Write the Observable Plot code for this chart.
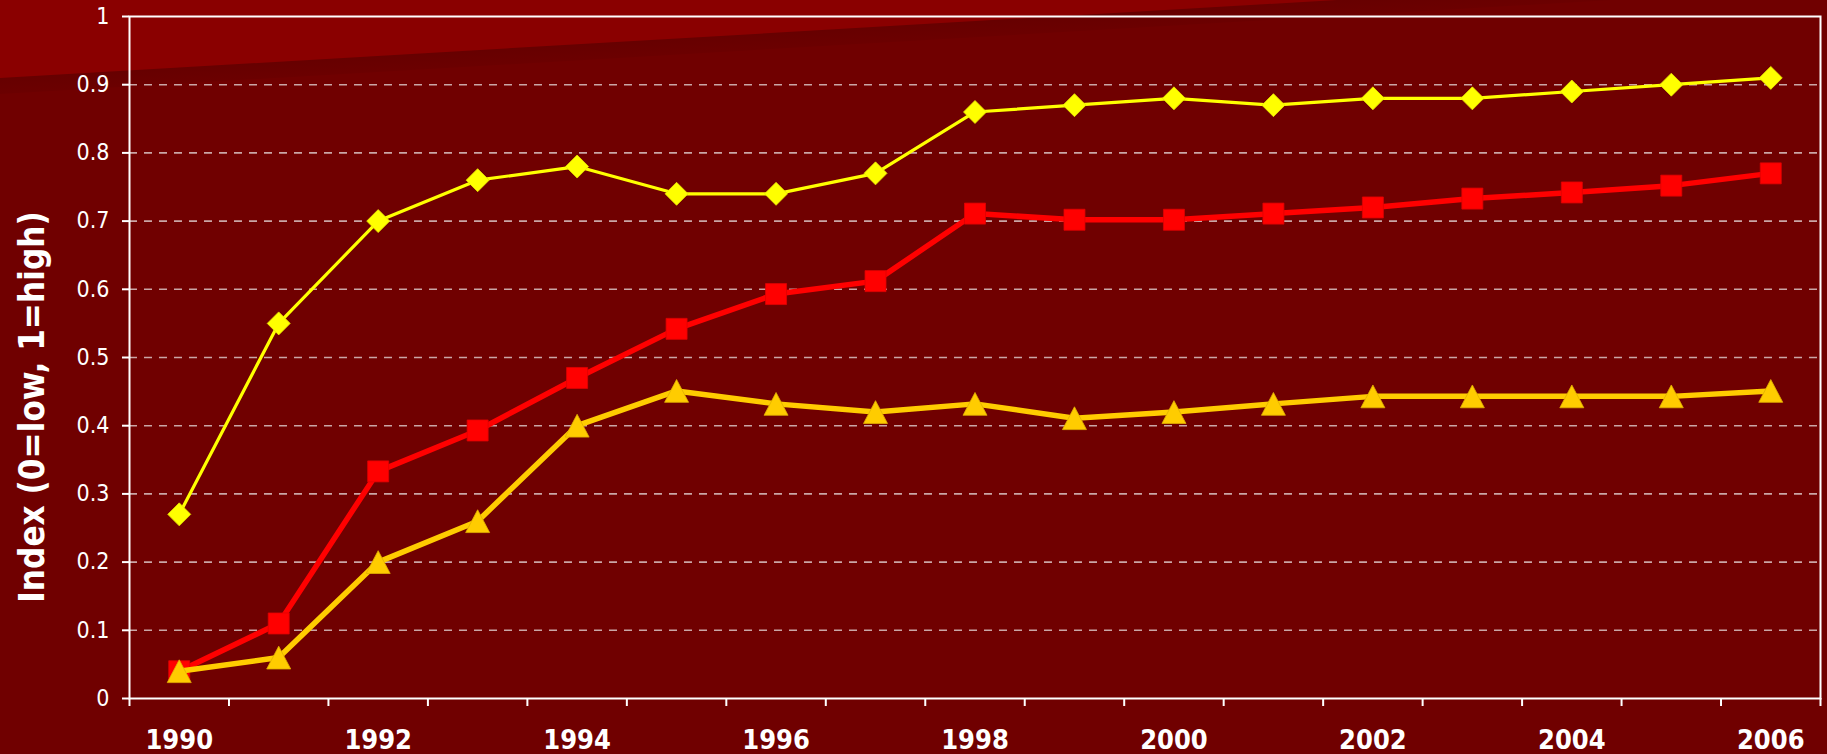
<!DOCTYPE html>
<html>
<head>
<meta charset="utf-8">
<script src="https://cdn.jsdelivr.net/npm/d3@7"></script>
<script src="https://cdn.jsdelivr.net/npm/@observablehq/plot@0.6"></script>
<style>
  html, body { margin: 0; padding: 0; background: #700000; overflow: hidden; }
  #wrap { position: relative; width: 1827px; height: 754px; }
  .bg { position: absolute; left: 0; top: 0; width: 1827px; height: 754px; }
  #shade { background: linear-gradient(176.6deg, #640000 0px, #640000 70px, #700000 110px); clip-path: polygon(0 0, 1612px 0, 0 94px); }
  #light { background: #8a0000; clip-path: polygon(0 0, 1337px 0, 0 78px); }
  #ytitle { position: absolute; left: 32px; top: 407px; transform: translate(-50%, -50%) rotate(-90deg);
    white-space: nowrap; color: #fff; font-family: "DejaVu Sans Condensed", "DejaVu Sans", sans-serif;
    font-stretch: condensed; font-weight: bold; font-size: 34.7px; }
  #chart { position: absolute; left: 0; top: 0; }
</style>
</head>
<body>
<div id="wrap">
  <div class="bg" id="shade"></div>
  <div class="bg" id="light"></div>
  <div id="chart"></div>
  <div id="ytitle">Index (0=low, 1=high)</div>
</div>
<script>
const years = [1990,1991,1992,1993,1994,1995,1996,1997,1998,1999,2000,2001,2002,2003,2004,2005,2006];
const yellowValues = [0.27,0.55,0.70,0.76,0.78,0.74,0.74,0.77,0.86,0.87,0.88,0.87,0.88,0.88,0.89,0.90,0.91];
const redValues    = [0.04,0.11,0.333,0.393,0.47,0.542,0.593,0.612,0.711,0.702,0.702,0.711,0.72,0.733,0.742,0.752,0.77];
const goldValues   = [0.04,0.06,0.20,0.26,0.40,0.451,0.432,0.42,0.432,0.411,0.42,0.432,0.443,0.443,0.443,0.443,0.451];
const yTicks = [0,0.1,0.2,0.3,0.4,0.5,0.6,0.7,0.8,0.9,1];
const yTickLabels = ["0","0.1","0.2","0.3","0.4","0.5","0.6","0.7","0.8","0.9","1"];
const gridTicks = [0.1,0.2,0.3,0.4,0.5,0.6,0.7,0.8,0.9];
const xLabelYears = [1990,1992,1994,1996,1998,2000,2002,2004,2006];

const xBoundaries = years.map(y => y - 0.5).concat([years[years.length - 1] + 0.5]);
const toRows = (vals) => years.map((year, i) => ({year, value: vals[i]}));
const yellowRows = toRows(yellowValues);
const redRows = toRows(redValues);
const goldRows = toRows(goldValues);

const diamondSym = {draw(ctx, size) { const r = Math.sqrt(size / Math.PI);
  ctx.moveTo(0, -r); ctx.lineTo(r, 0); ctx.lineTo(0, r); ctx.lineTo(-r, 0); ctx.closePath(); }};
const squareSym = {draw(ctx, size) { const r = Math.sqrt(size / Math.PI);
  ctx.rect(-r, -r, 2 * r, 2 * r); }};
const triangleSym = {draw(ctx, size) { const r = Math.sqrt(size / Math.PI);
  ctx.moveTo(0, -r * 0.95); ctx.lineTo(r, r * 0.95); ctx.lineTo(-r, r * 0.95); ctx.closePath(); }};

const font = '"DejaVu Sans Condensed", "DejaVu Sans", sans-serif';

const chart = Plot.plot({
  width: 1827,
  height: 754,
  marginLeft: 129,
  marginRight: 7,
  marginTop: 16,
  marginBottom: 56,
  style: {background: "transparent", color: "#fff", fontFamily: font, fontStretch: "condensed", overflow: "visible"},
  x: {type: "linear", domain: [years[0] - 0.5, years[years.length - 1] + 0.5], axis: null},
  y: {domain: [0, 1], axis: null},
  marks: [
    Plot.gridY(gridTicks, {stroke: "#caa6a6", strokeOpacity: 1, strokeWidth: 1.6, strokeDasharray: "8,7"}),
    Plot.frame({stroke: "#fff", strokeWidth: 2}),
    Plot.axisY(yTicks, {tickSize: 7, tickPadding: 13, strokeWidth: 2, fontSize: 23,
      tickFormat: (d) => yTickLabels[yTicks.indexOf(d)], label: null}),
    Plot.axisX(xBoundaries, {tickSize: 8, strokeWidth: 2, tickFormat: () => "", label: null}),
    Plot.axisX(xLabelYears, {tickSize: 0, tickPadding: 31, fontSize: 27, fontWeight: "bold",
      tickFormat: (d) => String(d), label: null}),
    Plot.line(yellowRows, {x: "year", y: "value", stroke: "#ffff00", strokeWidth: 3.2}),
    Plot.dot(yellowRows, {x: "year", y: "value", symbol: diamondSym, r: 11.5, fill: "#ffff00", stroke: "#e6e600", strokeWidth: 0.8}),
    Plot.line(redRows, {x: "year", y: "value", stroke: "#ff0000", strokeWidth: 5.5}),
    Plot.dot(redRows, {x: "year", y: "value", symbol: squareSym, r: 10.5, fill: "#ff0000", stroke: "#e00000", strokeWidth: 0.8}),
    Plot.line(goldRows, {x: "year", y: "value", stroke: "#ffcc00", strokeWidth: 5.5}),
    Plot.dot(goldRows, {x: "year", y: "value", symbol: triangleSym, r: 12, fill: "#ffcc00", stroke: "#e0b000", strokeWidth: 0.8})
  ]
});
document.getElementById("chart").appendChild(chart);
</script>
</body>
</html>
